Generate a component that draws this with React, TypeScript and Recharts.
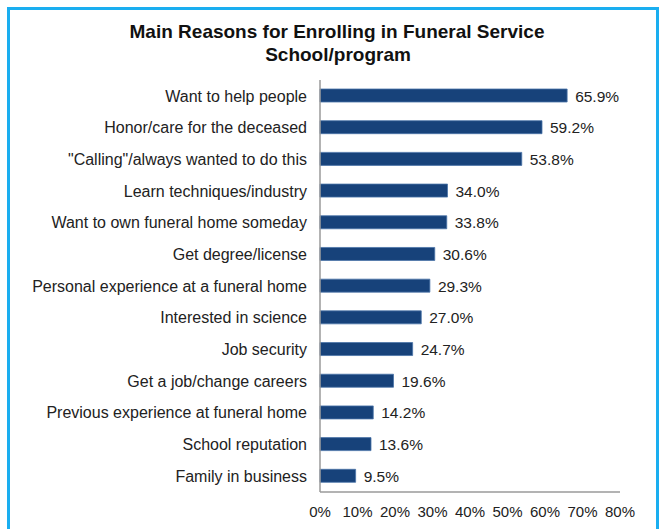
import React from 'react';
import { BarChart, Bar, XAxis, YAxis, LabelList } from 'recharts';

// reasons top to bottom
const reasons = [
  'Want to help people',
  'Honor/care for the deceased',
  '"Calling"/always wanted to do this',
  'Learn techniques/industry',
  'Want to own funeral home someday',
  'Get degree/license',
  'Personal experience at a funeral home',
  'Interested in science',
  'Job security',
  'Get a job/change careers',
  'Previous experience at funeral home',
  'School reputation',
  'Family in business',
];

const shares = [65.9, 59.2, 53.8, 34.0, 33.8, 30.6, 29.3, 27.0, 24.7, 19.6, 14.2, 13.6, 9.5];

const pctTicks = [0, 10, 20, 30, 40, 50, 60, 70, 80];

const data = reasons.map((reason, i) => ({ reason, share: shares[i] }));

const FONT = '"Liberation Sans", Arial, sans-serif';

const PctTick = (props: any) => {
  const { x, y, payload } = props;
  return (
    <text x={x} y={y + 12} textAnchor="middle" fontSize={15} fontFamily={FONT} fill="#222">
      {`${payload.value}%`}
    </text>
  );
};

const ValueLabel = (props: any) => {
  const { x, y, width, height, value } = props;
  return (
    <text
      x={Number(x) + Number(width) + 8}
      y={Number(y) + Number(height) / 2 + 6}
      textAnchor="start"
      fontSize={15.5}
      fontFamily={FONT}
      fill="#222"
    >
      {`${Number(value).toFixed(1)}%`}
    </text>
  );
};

export default function App() {
  return (
    <div style={{ position: 'absolute', left: 0, top: 0, width: 660, height: 529, background: '#fff' }}>
      <div
        style={{
          position: 'absolute',
          left: 7,
          top: 7,
          width: 646,
          height: 522,
          borderTop: '3px solid #1aaef0',
          borderLeft: '3px solid #1aaef0',
          borderRight: '3px solid #1aaef0',
          boxSizing: 'content-box',
        }}
      />
      <svg width={660} height={80} style={{ position: 'absolute', left: 0, top: 0 }}>
        <text x={337} y={38} textAnchor="middle" fontFamily={FONT} fontWeight="bold" fontSize={19} fill="#111">
          Main Reasons for Enrolling in Funeral Service
        </text>
        <text x={338} y={60.5} textAnchor="middle" fontFamily={FONT} fontWeight="bold" fontSize={19} fill="#111">
          School/program
        </text>
      </svg>
      <div style={{ position: 'absolute', left: 0, top: 0 }}>
        <BarChart
          width={660}
          height={529}
          data={data}
          layout="vertical"
          margin={{ top: 80, right: 40, bottom: 7, left: 0 }}
        >
          <XAxis
            type="number"
            domain={[0, 80]}
            ticks={pctTicks}
            axisLine={{ stroke: '#9a9a9a', strokeWidth: 1.5 }}
            tickLine={false}
            tickSize={6}
            tickMargin={7}
            height={30}
            interval={0}
            tick={<PctTick />}
          />
          <YAxis
            type="category"
            dataKey="reason"
            width={320}
            axisLine={{ stroke: '#9a9a9a', strokeWidth: 1.5 }}
            tickLine={false}
            tickSize={6}
            tickMargin={7}
            interval={0}
            tick={{ fontSize: 16, fill: '#222', fontFamily: FONT }}
          />
          <Bar dataKey="share" fill="#17427a" stroke="#4a74a8" strokeWidth={0.8} barSize={13} isAnimationActive={false}>
            <LabelList dataKey="share" content={<ValueLabel />} />
          </Bar>
        </BarChart>
      </div>
    </div>
  );
}
